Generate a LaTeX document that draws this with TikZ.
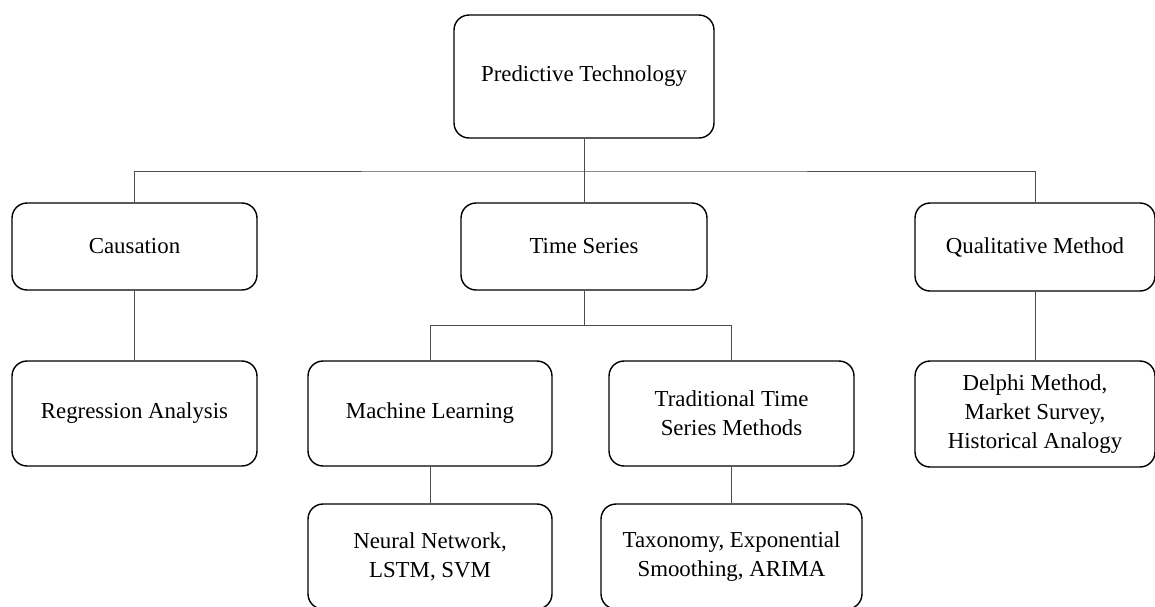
\documentclass[tikz,border=0pt]{standalone}
\usepackage{fontspec}
\setmainfont{Liberation Serif}
\begin{document}
\begin{tikzpicture}[x=0.02cm,y=-0.02cm,
    box/.style={draw=black,line width=0.8pt,rounded corners=0.3cm,align=center,
      font=\fontsize{13}{16.5}\selectfont,minimum height=2.1cm},
    link/.style={draw=black!70,line width=0.5pt}]
      \useasboundingbox (0,0) rectangle (1155,606);
      % top level
      \node[box,minimum width=5.2cm,minimum height=2.46cm] (pred) at (584,76.5) {Predictive Technology};
      % second level
      \node[box,minimum width=4.9cm,minimum height=1.74cm] (caus) at (134.5,246.5) {Causation};
      \node[box,minimum width=4.92cm,minimum height=1.74cm] (ts) at (584,246.5) {Time Series};
      \node[box,minimum width=4.8cm,minimum height=1.76cm] (qual) at (1035,247) {Qualitative Method};
      % third level
      \node[box,minimum width=4.9cm] (regr) at (134.5,413.5) {Regression Analysis};
      \node[box,minimum width=4.88cm] (ml) at (430,413.5) {Machine Learning};
      \node[box,minimum width=4.9cm] (trad) at (731.5,413.5) {Traditional Time\\Series Methods};
      \node[box,minimum width=4.8cm,minimum height=2.12cm] (delphi) at (1035,414) {Delphi Method,\\Market Survey,\\Historical Analogy};
      % fourth level
      \node[box,minimum width=4.88cm] (nn) at (430,556.5) {Neural Network,\\LSTM, SVM};
      \node[box,minimum width=5.22cm] (tax) at (731.5,556.5) {Taxonomy, Exponential\\Smoothing, ARIMA};
      % connectors
      \coordinate (bus1) at (584,171);
      \coordinate (bus2) at (584,325);
      \draw[link] (pred.south) -- (ts.north);
      \draw[link] (caus.north) |- (bus1) -| (qual.north);
      \draw[link] (caus.south) -- (regr.north);
      \draw[link] (qual.south) -- (delphi.north);
      \draw[link] (ts.south) -- (bus2);
      \draw[link] (ml.north) |- (bus2) -| (trad.north);
      \draw[link] (ml.south) -- (nn.north);
      \draw[link] (trad.south) -- (tax.north);
    \end{tikzpicture}
\end{document}
